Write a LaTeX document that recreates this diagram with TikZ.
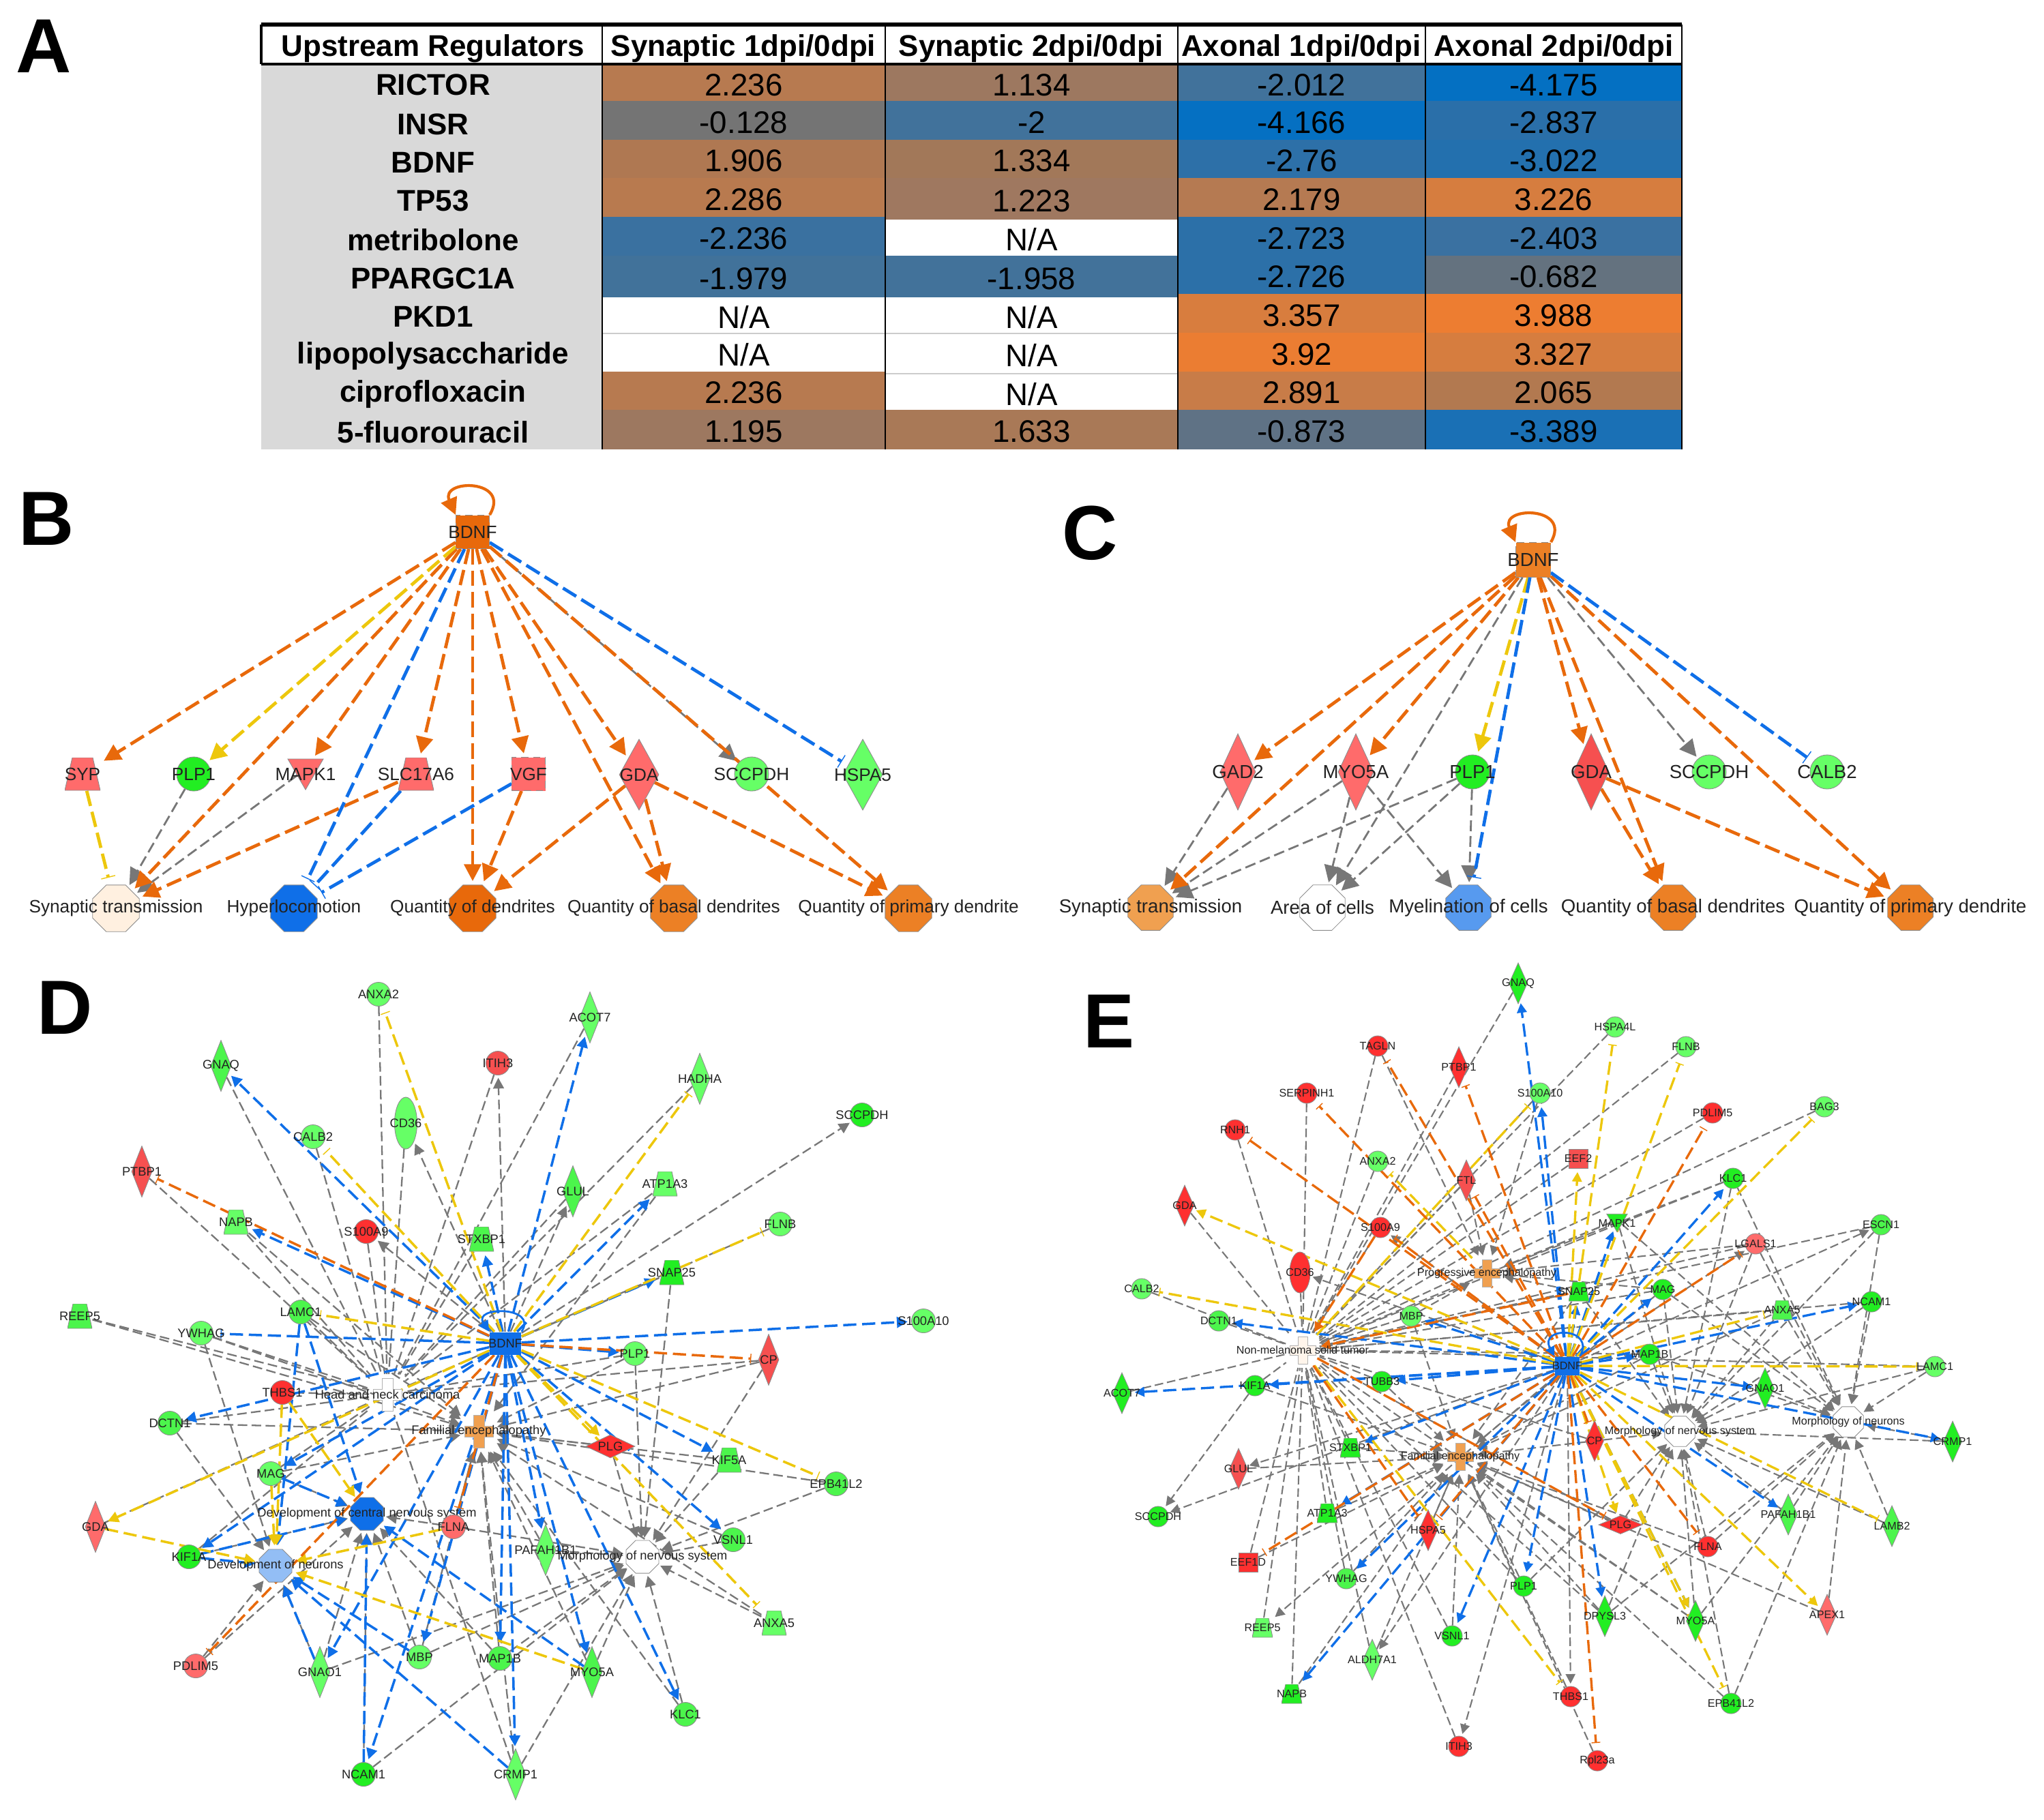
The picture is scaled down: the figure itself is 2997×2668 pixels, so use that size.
\documentclass[tikz,border=0pt]{standalone}
\usepackage{fontspec}
\setmainfont{Liberation Sans}
\usetikzlibrary{arrows.meta,shapes.geometric,backgrounds}
\definecolor{co}{HTML}{E8690B}
\definecolor{cy}{HTML}{EDC70C}
\definecolor{cb}{HTML}{0F6FE8}
\definecolor{cg}{HTML}{777777}
\definecolor{gL}{HTML}{66FF66}
\definecolor{gM}{HTML}{4CF54C}
\definecolor{gB}{HTML}{22EE22}
\definecolor{rL}{HTML}{FF6B6B}
\definecolor{rM}{HTML}{F65050}
\definecolor{rB}{HTML}{FF3030}
\definecolor{fO}{HTML}{EC8025}
\definecolor{fP}{HTML}{F0A050}
\definecolor{ink}{HTML}{222222}
\definecolor{cellc}{HTML}{FFFFFF}
\newcounter{cellno}
\def\cw{1pt}\def\gw{.65pt}\def\tl{4.5pt}\def\bw{4pt}\def\cd{5.5pt}\def\cf{2.4pt}\def\gd{4pt}\def\gf{1.8pt}
\def\csz{.35cm}\def\dw{.30cm}\def\dht{.75cm}\def\sqs{.28cm}\def\lf{5.2}
\def\tb{18}\def\tt{10}\def\th{18}\def\pa{8}\def\pw{21}\def\ph{24}
\tikzset{
 lab/.style={font=\fontsize{\lf}{\lf}\selectfont,text=ink,inner sep=0pt},
 nb/.style={draw=gray!90,line width=.25pt,inner sep=0pt},
 ci/.style={nb,circle,minimum size=\csz},
 el/.style={nb,ellipse,minimum width=.33cm,minimum height=.76cm},
 di/.style={nb,diamond,aspect=.4,minimum width=\dw,minimum height=\dht},
 dh/.style={nb,diamond,aspect=2.5,minimum width=.72cm,minimum height=.34cm},
 tr/.style={inner sep=0pt,rectangle,minimum width=2*\tb*0.01cm,minimum height=2*\th*0.01cm,path picture={
   \filldraw[fill=#1,draw=gray!90,line width=.25pt] (-\tb,\th)--(\tb,\th)--(\tt,-\th)--(-\tt,-\th)--cycle;}},
 it/.style={nb,regular polygon,regular polygon sides=3,shape border rotate=180,minimum size=#1},
 sq/.style={nb,rectangle,minimum size=\sqs},
 oc/.style={nb,regular polygon,regular polygon sides=8,minimum size=#1},
 pl/.style={inner sep=0pt,rectangle,minimum width=2*\pw*0.01cm+1pt,minimum height=2*\ph*0.01cm+1pt,path picture={
   \filldraw[fill=#1,draw=gray!60,line width=.2pt] (-\pa,-\ph)--(\pa,-\ph)--(\pa,-\pa)--(\pw,-\pa)--(\pw,\pa)--(\pa,\pa)--(\pa,\ph)--(-\pa,\ph)--(-\pa,\pa)--(-\pw,\pa)--(-\pw,-\pa)--(-\pa,-\pa)--cycle;}},
 cedge/.style={line width=\cw,dash pattern=on \cd off \cf,shorten >=1.5pt},
 gedge/.style={line width=\gw,draw=cg,dash pattern=on \gd off \gf,shorten >=1pt},
 oa/.style={cedge,draw=co,-{Triangle[length=\tl,width=\tl]}},
 ya/.style={cedge,draw=cy,-{Triangle[length=\tl,width=\tl]}},
 ba/.style={cedge,draw=cb,-{Triangle[length=\tl,width=\tl]}},
 ot/.style={cedge,draw=co,shorten >=3pt,-{Bar[width=\bw,line width=.4pt]}},
 yt/.style={cedge,draw=cy,shorten >=3pt,-{Bar[width=\bw,line width=.4pt]}},
 bt/.style={cedge,draw=cb,shorten >=3pt,-{Bar[width=\bw,line width=.4pt]}},
 ga/.style={gedge,-{Triangle[length=\tl,width=\tl]}},
 gl/.style={gedge},
 letter/.style={font=\fontsize{32}{32}\bfseries\selectfont,inner sep=0pt,text=black},
 tcell/.style={font=\fontsize{13}{13}\selectfont,inner sep=0pt,text=black,yshift=-.03cm},
 tbold/.style={font=\fontsize{12.5}{13}\bfseries\selectfont,inner sep=0pt,text=black},
 rule/.style={draw=black,line width=1pt},
}
\newcommand\G[5]{\node[#1,label={[lab]center:#5}] (#2) at (#3,#4) {};}
\newcommand\E[3]{\foreach \a/\b in {#3} {\draw[#1] (#2\a) -- (#2\b);}}
\newcommand\Cell[6]{\definecolor{cellc}{HTML}{#5}\stepcounter{cellno}%
 \path[fill=cellc] (#1,#3) rectangle (#2,#4) node[midway,tcell,name=cell\thecellno] {#6};}
\begin{document}
\begin{tikzpicture}[x=0.01cm,y=-0.01cm]
\useasboundingbox (0,0) rectangle (2997,2668);
% ---------- letters
\node[letter] (lA) at (64,68) {A};
\node[letter] (lB) at (68,761) {B};
\node[letter] (lC) at (1598,782) {C};
\node[letter] (lD) at (95,1478) {D};
\node[letter] (lE) at (1626,1498) {E};
% ---------- table
\path[fill=black!15] (383,93) rectangle (883,659);
\foreach \nm/\yy in {RICTOR/124,INSR/182,BDNF/238,TP53/294,metribolone/352,PPARGC1A/408,PKD1/464,lipopolysaccharide/522,ciprofloxacin/578,5-fluorouracil/634}{
 \node[tbold] (r\nm) at (635,\yy) {\nm};}
\node[tbold] (h0) at (635,71) {Upstream Regulators};
\node[tbold] (h1) at (1090,71) {Synaptic 1dpi/0dpi};
\node[tbold] (h2) at (1512,71) {Synaptic 2dpi/0dpi};
\node[tbold] (h3) at (1908,71) {Axonal 1dpi/0dpi};
\node[tbold] (h4) at (2278,71) {Axonal 2dpi/0dpi};
\Cell{883}{1298}{96}{148}{B77A50}{2.236}\Cell{1298}{1727}{96}{148}{9D7860}{1.134}\Cell{1727}{2090}{96}{148}{41729B}{-2.012}\Cell{2090}{2466}{96}{148}{0470C2}{-4.175}
\Cell{883}{1298}{148}{205}{747474}{-0.128}\Cell{1298}{1727}{148}{205}{41729B}{-2}\Cell{1727}{2090}{148}{205}{0570C2}{-4.166}\Cell{2090}{2466}{148}{205}{2A6FA9}{-2.837}
\Cell{883}{1298}{205}{261}{AF7852}{1.906}\Cell{1298}{1727}{205}{261}{A27859}{1.334}\Cell{1727}{2090}{205}{261}{2D70A8}{-2.76}\Cell{2090}{2466}{205}{261}{2370AE}{-3.022}
\Cell{883}{1298}{261}{318}{B87A4F}{2.286}\Cell{1298}{1727}{261}{322}{9F7860}{1.223}\Cell{1727}{2090}{261}{318}{B57A52}{2.179}\Cell{2090}{2466}{261}{318}{D67D3F}{3.226}
\Cell{883}{1298}{318}{375}{3A71A0}{-2.236}\Cell{1298}{1727}{322}{375}{FFFFFF}{N/A}\Cell{1727}{2090}{318}{375}{2C70A8}{-2.723}\Cell{2090}{2466}{318}{375}{3A71A1}{-2.403}
\Cell{883}{1298}{375}{436}{41729A}{-1.979}\Cell{1298}{1727}{375}{436}{42729A}{-1.958}\Cell{1727}{2090}{375}{431}{2C70A8}{-2.726}\Cell{2090}{2466}{375}{431}{64727F}{-0.682}
\Cell{883}{1298}{436}{488}{FFFFFF}{N/A}\Cell{1298}{1727}{436}{488}{FFFFFF}{N/A}\Cell{1727}{2090}{431}{488}{D87D3E}{3.357}\Cell{2090}{2466}{431}{488}{ED7D31}{3.988}
\Cell{883}{1298}{490}{545}{FFFFFF}{N/A}\Cell{1298}{1727}{490}{547}{FFFFFF}{N/A}\Cell{1727}{2090}{488}{545}{EB7D32}{3.92}\Cell{2090}{2466}{488}{545}{D67D3F}{3.327}
\Cell{883}{1298}{545}{601}{B77A50}{2.236}\Cell{1298}{1727}{549}{601}{FFFFFF}{N/A}\Cell{1727}{2090}{545}{601}{C87C48}{2.891}\Cell{2090}{2466}{545}{601}{B27950}{2.065}
\Cell{883}{1298}{601}{659}{9D7860}{1.195}\Cell{1298}{1727}{601}{659}{A97957}{1.633}\Cell{1727}{2090}{601}{659}{5F7285}{-0.873}\Cell{2090}{2466}{601}{659}{1A70B5}{-3.389}
\draw[black!20,line width=.6pt] (883,489)--(1727,489) (1298,548)--(1727,548);
\draw[rule,line width=1.5pt] (383,36)--(2466,36);
\draw[rule] (383,94)--(2466,94) (383,36)--(383,94);
\foreach \xx in {883,1298,1727,2090,2466} {\draw[rule,line width=.8pt] (\xx,36)--(\xx,659);}
% ================ PANEL B
\begin{scope}
\def\lf{7.45}\def\csz{.50cm}\def\dw{.58cm}\def\dht{1.04cm}\def\sqs{.49cm}\def\tb{26}\def\tt{15}\def\th{24}
\def\cw{1.35pt}\def\gw{.8pt}\def\tl{7pt}\def\bw{6pt}\def\cd{6.5pt}\def\cf{2.5pt}\def\gd{4.5pt}\def\gf{2pt}
\G{sq,fill=co,densely dashed}{bB}{693}{780}{BDNF}
\G{tr=rL}{bSYP}{121}{1135}{SYP}
\G{ci,fill=gB}{bPLP1}{284}{1135}{PLP1}
\node[it=.60cm,fill=rL] (bMAPK1) at (448,1128) {};
\node[lab] (bMAPK1t) at (448,1135) {MAPK1};
\G{tr=rL}{bSLC}{610}{1135}{SLC17A6}
\G{sq,fill=rL,densely dashed}{bVGF}{775}{1135}{VGF}
\G{di,fill=rL}{bGDA}{937}{1136}{GDA}
\G{ci,fill=gL}{bSCC}{1102}{1135}{SCCPDH}
\G{di,fill=gL}{bHSP}{1265}{1136}{HSPA5}
\G{oc=.74cm,fill=orange!12}{bSyn}{170}{1332}{Synaptic transmission}
\G{oc=.74cm,fill=cb}{bHyp}{431}{1332}{Hyperlocomotion}
\G{oc=.74cm,fill=co}{bQd}{693}{1332}{Quantity of dendrites}
\G{oc=.74cm,fill=fO}{bQb}{988}{1332}{Quantity of basal dendrites}
\G{oc=.74cm,fill=fO}{bQp}{1332}{1332}{Quantity of primary dendrite}
\begin{scope}[on background layer]
\fill[white] (0,0) rectangle (2997,2668);
\E{ga}{b}{PLP1/Syn,MAPK1/Syn,B/SCC}
\E{oa}{b}{B/SYP,B/MAPK1,B/SLC,B/VGF,B/GDA,B/Syn,B/Qd,B/Qb,B/Qp,SLC/Syn,VGF/Qd,GDA/Qd,GDA/Qb,GDA/Qp}
\E{ya}{b}{B/PLP1}
\E{yt}{b}{SYP/Syn}
\E{bt}{b}{B/HSP,B/Hyp,SLC/Hyp,VGF/Hyp}
\draw[co,line width=1.2pt,-{Triangle[length=7pt,width=7pt]}] (bB.north east) .. controls (750,702) and (645,702) .. (bB.north west);
\end{scope}
\end{scope}
% ================ PANEL C
\begin{scope}
\def\lf{7.85}\def\csz{.50cm}\def\dw{.52cm}\def\dht{1.12cm}\def\sqs{.51cm}
\def\cw{1.35pt}\def\gw{.8pt}\def\tl{7pt}\def\bw{6pt}\def\cd{6.5pt}\def\cf{2.5pt}\def\gd{4.5pt}\def\gf{2pt}
\G{sq,fill=fO,densely dashed}{cB}{2248}{821}{BDNF}
\G{di,fill=rL}{cGAD}{1815}{1132}{GAD2}
\G{di,fill=rL}{cMYO}{1988}{1132}{MYO5A}
\G{ci,fill=gB}{cPLP}{2159}{1132}{PLP1}
\G{di,fill=rM}{cGDA}{2333}{1132}{GDA}
\G{ci,fill=gL}{cSCC}{2506}{1132}{SCCPDH}
\G{ci,fill=gL}{cCAL}{2679}{1132}{CALB2}
\G{oc=.72cm,fill=fP}{cSyn}{1687}{1331}{Synaptic transmission}
\G{oc=.72cm,fill=white}{cAre}{1939}{1331}{Area of cells}
\G{oc=.72cm,fill=cb!70}{cMye}{2153}{1331}{Myelination of cells}
\G{oc=.72cm,fill=fO}{cQb}{2453}{1331}{Quantity of basal dendrites}
\G{oc=.72cm,fill=fO}{cQp}{2801}{1331}{Quantity of primary dendrite}
\begin{scope}[on background layer]
\E{ga}{c}{B/SCC,B/Are,GAD/Syn,MYO/Syn,MYO/Are,MYO/Mye,PLP/Syn,PLP/Are,PLP/Mye}
\E{oa}{c}{B/GAD,B/MYO,B/GDA,B/Syn,B/Qb,B/Qp,GDA/Qb,GDA/Qp}
\E{ya}{c}{B/PLP}
\E{bt}{c}{B/CAL,B/Mye}
\draw[co,line width=1.2pt,-{Triangle[length=7pt,width=7pt]}] (cB.north east) .. controls (2305,742) and (2200,742) .. (cB.north west);
\end{scope}
\end{scope}
% ================ PANEL D
\begin{scope}
\G{rectangle,fill=cb,inner sep=0pt,minimum width=.46cm,minimum height=.33cm}{dB}{741}{1970}{BDNF}
\G{ci,fill=gL}{dANXA2}{555}{1458}{ANXA2}
\G{di,fill=gM}{dGNAQ}{324}{1563}{GNAQ}
\G{ci,fill=gL}{dCALB2}{459}{1667}{CALB2}
\G{el,fill=gL}{dCD36}{595}{1647}{CD36}
\G{ci,fill=rM}{dITIH3}{730}{1559}{ITIH3}
\G{di,fill=rM}{dPTBP1}{208}{1718}{PTBP1}
\G{tr=gL}{dNAPB}{346}{1792}{NAPB}
\G{ci,fill=rB}{dS100A9}{537}{1806}{S100A9}
\G{tr=gM}{dSTXBP1}{706}{1817}{STXBP1}
\G{tr=gM}{dREEP5}{117}{1930}{REEP5}
\G{ci,fill=gM}{dLAMC1}{441}{1924}{LAMC1}
\G{ci,fill=gL}{dYWHAG}{295}{1955}{YWHAG}
\G{di,fill=gL}{dACOT7}{865}{1492}{ACOT7}
\G{di,fill=gL}{dHADHA}{1026}{1582}{HADHA}
\G{ci,fill=gB}{dSCCPDH}{1264}{1635}{SCCPDH}
\G{di,fill=gM}{dGLUL}{840}{1747}{GLUL}
\G{tr=gL}{dATP1A3}{975}{1736}{ATP1A3}
\G{ci,fill=gL}{dFLNB}{1144}{1795}{FLNB}
\G{tr=gB}{dSNAP25}{985}{1866}{SNAP25}
\G{ci,fill=gL}{dS100A10}{1354}{1937}{S100A10}
\G{ci,fill=gL}{dPLP1}{931}{1985}{PLP1}
\G{di,fill=rM}{dCP}{1127}{1994}{CP}
\G{ci,fill=rB}{dTHBS1}{414}{2042}{THBS1}
\G{pl=white}{dH}{568}{2045}{Head and neck carcinoma}
\G{ci,fill=gM}{dDCTN1}{249}{2087}{DCTN1}
\G{pl=fP}{dF}{702}{2099}{Familial encephalopathy}
\G{ci,fill=gL}{dMAG}{397}{2161}{MAG}
\G{oc=.52cm,fill=cb}{dC}{538}{2220}{Development of central nervous system}
\G{di,fill=rL}{dGDA}{140}{2239}{GDA}
\G{ci,fill=rL}{dFLNA}{665}{2239}{FLNA}
\G{ci,fill=gB}{dKIF1A}{277}{2283}{KIF1A}
\G{oc=.52cm,fill=cb!45}{dN}{404}{2296}{Development of neurons}
\G{ci,fill=rL}{dPDLIM5}{287}{2443}{PDLIM5}
\G{di,fill=gL}{dGNAO1}{469}{2452}{GNAO1}
\G{ci,fill=gL}{dMBP}{615}{2430}{MBP}
\G{ci,fill=gM}{dMAP1B}{733}{2432}{MAP1B}
\G{ci,fill=gB}{dNCAM1}{533}{2602}{NCAM1}
\G{di,fill=gL}{dCRMP1}{756}{2602}{CRMP1}
\G{dh,fill=rB}{dPLG}{895}{2121}{PLG}
\G{tr=gM}{dKIF5A}{1069}{2141}{KIF5A}
\G{ci,fill=gM}{dEPB41L2}{1226}{2176}{EPB41L2}
\G{ci,fill=gM}{dVSNL1}{1075}{2258}{VSNL1}
\G{di,fill=gL}{dPAFAH1B1}{800}{2273}{PAFAH1B1}
\G{oc=.52cm,fill=white}{dM}{942}{2283}{Morphology of nervous system}
\G{tr=gL}{dANXA5}{1135}{2380}{ANXA5}
\G{di,fill=gM}{dMYO5A}{868}{2452}{MYO5A}
\G{ci,fill=gM}{dKLC1}{1005}{2514}{KLC1}
\begin{scope}[on background layer]
\E{gl}{d}{ANXA2/H,GNAQ/H,CALB2/H,CD36/H,ITIH3/H,PTBP1/H,NAPB/H,S100A9/H,STXBP1/H,REEP5/H,LAMC1/H,YWHAG/H,ACOT7/H,HADHA/H,GLUL/H,ATP1A3/H,SNAP25/H,PLP1/H,CP/H,THBS1/H,DCTN1/H,MAG/H,GDA/H,KIF1A/H,CRMP1/H,FLNB/B,SNAP25/B}
\E{ga}{d}{REEP5/F,LAMC1/F,YWHAG/F,YWHAG/N,ATP1A3/F,NAPB/F,SNAP25/M,PLP1/F,PLP1/M,CP/F,CP/M,DCTN1/F,DCTN1/N,MAG/F,MAG/C,FLNA/C,FLNA/F,FLNA/M,KIF1A/C,PDLIM5/N,PDLIM5/C,GNAO1/N,GNAO1/M,GNAO1/C,MBP/F,MBP/C,MBP/M,MAP1B/C,MAP1B/F,MAP1B/M,NCAM1/C,NCAM1/M,CRMP1/F,CRMP1/M,PLG/M,PLG/F,KIF5A/M,KIF5A/F,EPB41L2/M,EPB41L2/F,VSNL1/M,VSNL1/F,PAFAH1B1/M,PAFAH1B1/F,ANXA5/M,ANXA5/F,MYO5A/M,MYO5A/F,KLC1/M,KLC1/F,B/CD36,B/ITIH3,B/S100A9,B/GLUL,B/SCCPDH}
\E{ba}{d}{B/GNAQ,B/NAPB,B/STXBP1,B/ACOT7,B/ATP1A3,B/SNAP25,B/S100A10,B/PLP1,B/DCTN1,B/KIF5A,B/VSNL1,B/KLC1,B/MYO5A,B/MAP1B,B/PAFAH1B1,B/CRMP1,B/NCAM1,B/MBP,B/GNAO1,B/KIF1A,B/MAG,LAMC1/C,LAMC1/N,MAG/C,KIF1A/C,KIF1A/N,GNAO1/N,MBP/N,CRMP1/N,MYO5A/C,NCAM1/C}
\E{bt}{d}{B/YWHAG}
\E{yt}{d}{B/ANXA2,B/CALB2,B/HADHA,B/FLNB,B/LAMC1,B/ANXA5,B/EPB41L2}
\E{ya}{d}{B/GDA,B/PLG,THBS1/C,THBS1/N,MAG/N,FLNA/N,GDA/N,MYO5A/N}
\E{ot}{d}{B/PTBP1,B/CP,B/PDLIM5,B/FLNA}
\draw[cb,line width=.8pt,-{Triangle[length=4.5pt,width=4.5pt]}] (dB.north east) .. controls (790,1915) and (692,1915) .. (dB.north west);
\end{scope}
\end{scope}
% ================ PANEL E
\begin{scope}
\def\lf{4.6}\def\csz{.30cm}\def\dw{.27cm}\def\dht{.60cm}\def\tb{15}\def\tt{9}\def\th{14}\def\tl{4pt}\def\bw{3.6pt}\def\pa{7}\def\pw{19}\def\ph{20}
\def\cw{.95pt}\def\gw{.6pt}\def\gd{3.6pt}\def\gf{1.6pt}
\tikzset{el/.append style={minimum width=.30cm,minimum height=.60cm},dh/.append style={minimum width=.64cm,minimum height=.27cm}}
\G{rectangle,fill=cb,inner sep=0pt,minimum width=.36cm,minimum height=.27cm}{eB}{2298}{2003}{BDNF}
\G{di,fill=gB}{eGNAQ}{2226}{1442}{GNAQ}
\G{ci,fill=rB}{eTAGLN}{2020}{1534}{TAGLN}
\G{di,fill=rB}{ePTBP1}{2139}{1565}{PTBP1}
\G{ci,fill=rB}{eSERPINH1}{1916}{1603}{SERPINH1}
\G{ci,fill=gL}{eS100A10}{2258}{1603}{S100A10}
\G{ci,fill=rB}{eRNH1}{1811}{1657}{RNH1}
\G{ci,fill=gL}{eANXA2}{2020}{1703}{ANXA2}
\G{di,fill=rM}{eFTL}{2150}{1731}{FTL}
\G{di,fill=rB}{eGDA}{1737}{1768}{GDA}
\G{ci,fill=rB}{eS100A9}{2024}{1800}{S100A9}
\G{el,fill=rB}{eCD36}{1906}{1866}{CD36}
\G{pl=fP}{eP}{2180}{1867}{Progressive encephalopathy}
\G{ci,fill=gL}{eCALB2}{1674}{1890}{CALB2}
\G{ci,fill=gM}{eDCTN1}{1787}{1937}{DCTN1}
\G{ci,fill=gL}{eMBP}{2069}{1930}{MBP}
\G{pl=orange!8}{eN}{1910}{1980}{Non-melanoma solid tumor}
\G{ci,fill=gB}{eTUBB3}{2026}{2026}{TUBB3}
\G{ci,fill=gB}{eKIF1A}{1840}{2032}{KIF1A}
\G{di,fill=gB}{eACOT7}{1645}{2043}{ACOT7}
\G{ci,fill=gL}{eHSPA4L}{2368}{1506}{HSPA4L}
\G{ci,fill=gL}{eFLNB}{2472}{1535}{FLNB}
\G{ci,fill=rB}{ePDLIM5}{2511}{1632}{PDLIM5}
\G{ci,fill=gL}{eBAG3}{2675}{1623}{BAG3}
\G{sq,fill=rM}{eEEF2}{2314}{1699}{EEF2}
\G{ci,fill=gB}{eKLC1}{2541}{1728}{KLC1}
\node[it=.35cm,fill=gB] (eMAPK1) at (2371,1789) {};
\node[lab] (eMAPK1t) at (2371,1794) {MAPK1};
\G{ci,fill=gM}{eESCN1}{2758}{1796}{ESCN1}
\G{ci,fill=rL}{eLGALS1}{2574}{1824}{LGALS1}
\G{tr=gB}{eSNAP25}{2315}{1894}{SNAP25}
\G{ci,fill=gB}{eMAG}{2438}{1891}{MAG}
\G{ci,fill=gB}{eNCAM1}{2744}{1909}{NCAM1}
\G{tr=gM}{eANXA5}{2613}{1921}{ANXA5}
\G{ci,fill=gB}{eMAP1B}{2419}{1986}{MAP1B}
\G{ci,fill=gL}{eLAMC1}{2837}{2004}{LAMC1}
\G{di,fill=gB}{eGNAO1}{2588}{2036}{GNAO1}
\G{di,fill=gB}{eCRMP1}{2863}{2114}{CRMP1}
\G{oc=.48cm,fill=white}{eR}{2710}{2085}{Morphology of neurons}
\G{oc=.48cm,fill=white}{eM}{2463}{2099}{Morphology of nervous system}
\G{di,fill=rB}{eCP}{2338}{2113}{CP}
\G{dh,fill=rB}{ePLG}{2376}{2236}{PLG}
\G{di,fill=gM}{ePAFAH1B1}{2622}{2221}{PAFAH1B1}
\G{di,fill=gM}{eLAMB2}{2774}{2238}{LAMB2}
\G{ci,fill=rB}{eFLNA}{2504}{2268}{FLNA}
\G{di,fill=rL}{eAPEX1}{2679}{2368}{APEX1}
\G{di,fill=gB}{eDPYSL3}{2353}{2370}{DPYSL3}
\G{di,fill=gB}{eMYO5A}{2486}{2377}{MYO5A}
\G{ci,fill=rB}{eTHBS1}{2303}{2488}{THBS1}
\G{ci,fill=gB}{eEPB41L2}{2538}{2498}{EPB41L2}
\G{ci,fill=rB}{eRpl23a}{2342}{2582}{Rpl23a}
\G{tr=gB}{eSTXBP1}{1980}{2123}{STXBP1}
\G{pl=fP}{eF}{2141}{2136}{Familial encephalopathy}
\G{di,fill=rM}{eGLUL}{1816}{2154}{GLUL}
\G{ci,fill=gB}{eSCCPDH}{1698}{2224}{SCCPDH}
\G{tr=gB}{eATP1A3}{1946}{2219}{ATP1A3}
\G{di,fill=rB}{eHSPA5}{2094}{2244}{HSPA5}
\G{sq,fill=rB}{eEEF1D}{1830}{2291}{EEF1D}
\G{ci,fill=gM}{eYWHAG}{1974}{2315}{YWHAG}
\G{ci,fill=gB}{ePLP1}{2234}{2326}{PLP1}
\G{tr=gL}{eREEP5}{1851}{2387}{REEP5}
\G{ci,fill=gB}{eVSNL1}{2129}{2399}{VSNL1}
\G{di,fill=gL}{eALDH7A1}{2012}{2434}{ALDH7A1}
\G{tr=gB}{eNAPB}{1894}{2484}{NAPB}
\G{ci,fill=rB}{eITIH3}{2139}{2561}{ITIH3}
\begin{scope}[on background layer]
\E{gl}{e}{GNAQ/N,TAGLN/N,PTBP1/N,SERPINH1/N,RNH1/N,ANXA2/N,FTL/N,GDA/N,S100A9/N,CD36/N,CALB2/N,DCTN1/N,MBP/N,S100A10/N,HSPA4L/N,FLNB/N,BAG3/N,PDLIM5/N,EEF2/N,KLC1/N,MAPK1/N,ESCN1/N,LGALS1/N,SNAP25/N,MAG/N,NCAM1/N,ANXA5/N,MAP1B/N,LAMC1/N,CP/N,PLG/N,DPYSL3/N,MYO5A/N,ACOT7/N,KIF1A/N,REEP5/N,EEF1D/N,STXBP1/N,ATP1A3/N,YWHAG/N,NAPB/N,ALDH7A1/N,VSNL1/N,ITIH3/N,PLP1/N,TUBB3/N}
\E{ga}{e}{TAGLN/P,FTL/P,MBP/P,S100A10/P,KLC1/P,MAPK1/P,LGALS1/P,SNAP25/P,MAG/P,MBP/F,SNAP25/F,ANXA5/F,CP/F,PLG/F,FLNA/F,APEX1/F,DPYSL3/F,MYO5A/F,THBS1/F,EPB41L2/F,Rpl23a/F,EEF1D/F,STXBP1/F,ATP1A3/F,YWHAG/F,NAPB/F,ALDH7A1/F,VSNL1/F,HSPA5/F,PLP1/F,TUBB3/F,KIF1A/F,GLUL/F,MAP1B/F,MAG/F,MAPK1/M,SNAP25/M,MAG/M,ANXA5/M,MAP1B/M,GNAO1/M,CRMP1/M,CP/M,PLG/M,PAFAH1B1/M,LAMB2/M,FLNA/M,DPYSL3/M,MYO5A/M,EPB41L2/M,PLP1/M,KLC1/M,LGALS1/M,NCAM1/M,ESCN1/M,LAMC1/M,MAPK1/R,ESCN1/R,LGALS1/R,MAG/R,NCAM1/R,ANXA5/R,MAP1B/R,LAMC1/R,GNAO1/R,CRMP1/R,PAFAH1B1/R,LAMB2/R,FLNA/R,APEX1/R,DPYSL3/R,MYO5A/R,EPB41L2/R,KLC1/R,B/CD36,B/S100A9,B/ESCN1,B/LGALS1,B/THBS1,B/GLUL,B/SCCPDH,B/REEP5,B/ALDH7A1,B/ITIH3,KIF1A/SCCPDH}
\E{ba}{e}{B/GNAQ,B/S100A10,B/DCTN1,B/MBP,B/TUBB3,B/KIF1A,B/ACOT7,B/STXBP1,B/ATP1A3,B/YWHAG,B/NAPB,B/VSNL1,B/PLP1,B/MAPK1,B/KLC1,B/MAG,B/SNAP25,B/NCAM1,B/GNAO1,B/CRMP1,B/PAFAH1B1,B/MYO5A,B/DPYSL3,B/MAP1B}
\E{yt}{e}{B/HSPA4L,B/FLNB,B/BAG3,B/LAMC1,B/ANXA5,B/LAMB2,B/EPB41L2,B/CALB2,N/THBS1,N/S100A10,P/ANXA2}
\E{ya}{e}{B/EEF2,B/APEX1,B/PLG,B/GDA,B/MYO5A}
\E{ot}{e}{B/TAGLN,B/PTBP1,B/SERPINH1,B/RNH1,B/FTL,B/S100A9,B/PDLIM5,B/LGALS1,B/EEF1D,B/HSPA5,B/FLNA,B/Rpl23a,B/CP,N/HSPA5,N/PLG}
\E{oa}{e}{S100A9/N,SNAP25/N}
\draw[cb,line width=.8pt,-{Triangle[length=4pt,width=4pt]}] (eB.north east) .. controls (2340,1945) and (2255,1945) .. (eB.north west);
\end{scope}
\end{scope}
\end{tikzpicture}
\end{document}
